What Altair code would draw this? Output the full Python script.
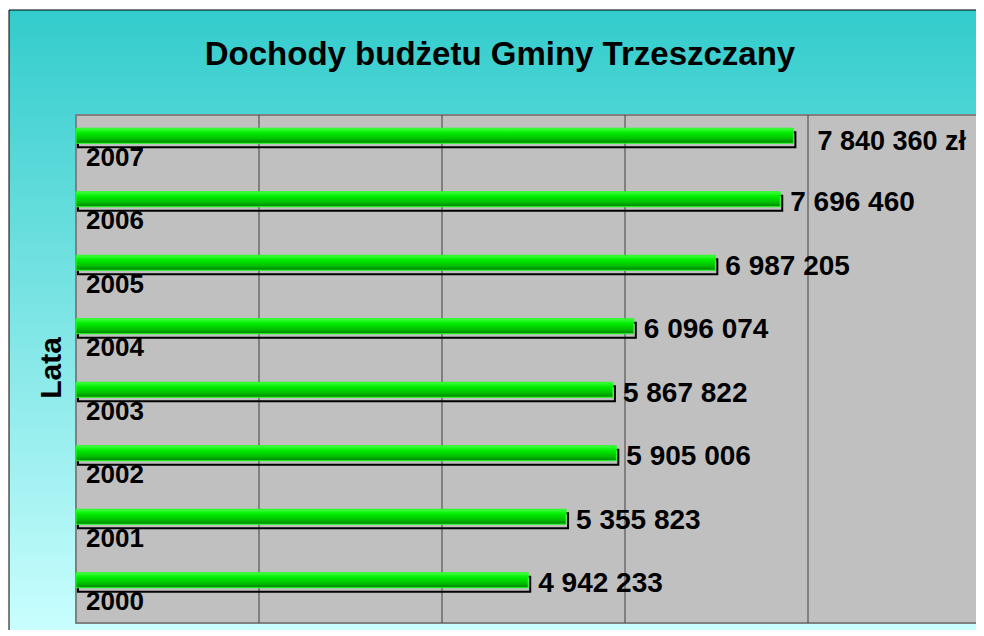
import altair as alt
import pandas as pd

# ---- data ----
years = ["2000", "2001", "2002", "2003", "2004", "2005", "2006", "2007"]
values = [4942233, 5355823, 5905006, 5867822, 6096074, 6987205, 7696460, 7840360]
suffix = ["", "", "", "", "", "", "", " zł"]
grid_values = [2000000, 4000000, 6000000, 8000000]
title_text = "Dochody budżetu Gminy Trzeszczany"
axis_title = "Lata"

labels = [f"{v:,}".replace(",", " ") + s for v, s in zip(values, suffix)]
df = pd.DataFrame({"year": years, "value": values, "label": labels})
grid_df = pd.DataFrame({"g": grid_values})
one = pd.DataFrame({"a": [0]})

W, H = 900, 508
XMAX = 9836000
FONT = "Liberation Sans"

xscale = alt.Scale(domain=[0, XMAX], nice=False, zero=True)
yscale = alt.Scale(paddingInner=0, paddingOuter=0)
order = years[::-1]

bg_grad = alt.LinearGradient(
    gradient="linear",
    stops=[alt.GradientStop(color="#33CCCC", offset=0),
           alt.GradientStop(color="#CCFFFF", offset=1)],
    x1=0, x2=0, y1=0, y2=1)

bar_grad = alt.LinearGradient(
    gradient="linear",
    stops=[alt.GradientStop(color="#44FF44", offset=0),
           alt.GradientStop(color="#00EE00", offset=0.3),
           alt.GradientStop(color="#00C000", offset=0.7),
           alt.GradientStop(color="#008000", offset=1)],
    x1=0, x2=0, y1=0, y2=1)

frame = alt.Chart(one).mark_rect(fill=bg_grad, stroke="#000000", strokeWidth=1).encode(
    x=alt.value(-67), x2=alt.value(W + 60), y=alt.value(-105), y2=alt.value(H + 20))

plotbg = alt.Chart(one).mark_rect(fill="#C0C0C0", stroke="#808080", strokeWidth=2).encode(
    x=alt.value(0), x2=alt.value(W + 10), y=alt.value(0), y2=alt.value(H))

grid = alt.Chart(grid_df).mark_rule(color="#404040", strokeWidth=1).encode(
    x=alt.X("g:Q", scale=xscale, axis=None),
    y=alt.value(0), y2=alt.value(H))

yenc = alt.Y("year:O", sort=order, scale=yscale, axis=None)

shadow = alt.Chart(df).mark_bar(size=15, filled=False, stroke="#000000", strokeWidth=2,
                                xOffset=2, x2Offset=2, yOffset=-7).encode(
    x=alt.X("value:Q", scale=xscale, axis=None), y=yenc)

bars = alt.Chart(df).mark_bar(size=15, fill=bar_grad, stroke="#22FF22", strokeWidth=1,
                              yOffset=-11).encode(
    x=alt.X("value:Q", scale=xscale, axis=None), y=yenc)

year_text = alt.Chart(df).mark_text(align="left", baseline="alphabetic", dy=19,
                                    font=FONT, fontWeight="bold", fontSize=26,
                                    color="#000000").encode(
    x=alt.value(10), y=yenc, text="year:N")

val_text = alt.Chart(df).transform_filter("datum.year != '2007'").mark_text(
    align="left", baseline="alphabetic", dx=10, dy=1,
    font=FONT, fontWeight="bold", fontSize=28, color="#000000").encode(
    x=alt.X("value:Q", scale=xscale, axis=None), y=yenc, text="label:N")

top_text = alt.Chart(df).transform_filter("datum.year == '2007'").mark_text(
    align="left", baseline="alphabetic", dx=24, dy=3,
    font=FONT, fontWeight="bold", fontSize=27, color="#000000").encode(
    x=alt.X("value:Q", scale=xscale, axis=None), y=yenc, text="label:N")

title = alt.Chart(one).mark_text(text=title_text, align="center", baseline="alphabetic",
                                 font=FONT, fontWeight="bold", fontSize=33,
                                 color="#000000").encode(
    x=alt.value(424), y=alt.value(-50))

lata = alt.Chart(one).mark_text(text=axis_title, align="center", baseline="middle",
                                angle=270, font=FONT, fontWeight="bold", fontSize=30,
                                color="#000000").encode(
    x=alt.value(-24), y=alt.value(253))

chart = alt.layer(frame, plotbg, grid, shadow, bars, year_text, val_text, top_text,
                  title, lata).properties(
    width=W, height=H,
    autosize=alt.AutoSizeParams(type="none"),
    padding={"left": 68, "top": 107, "right": 0, "bottom": 7},
).configure_view(stroke=None)

chart.save("out.html", embed_options={"renderer": "svg", "actions": False})
